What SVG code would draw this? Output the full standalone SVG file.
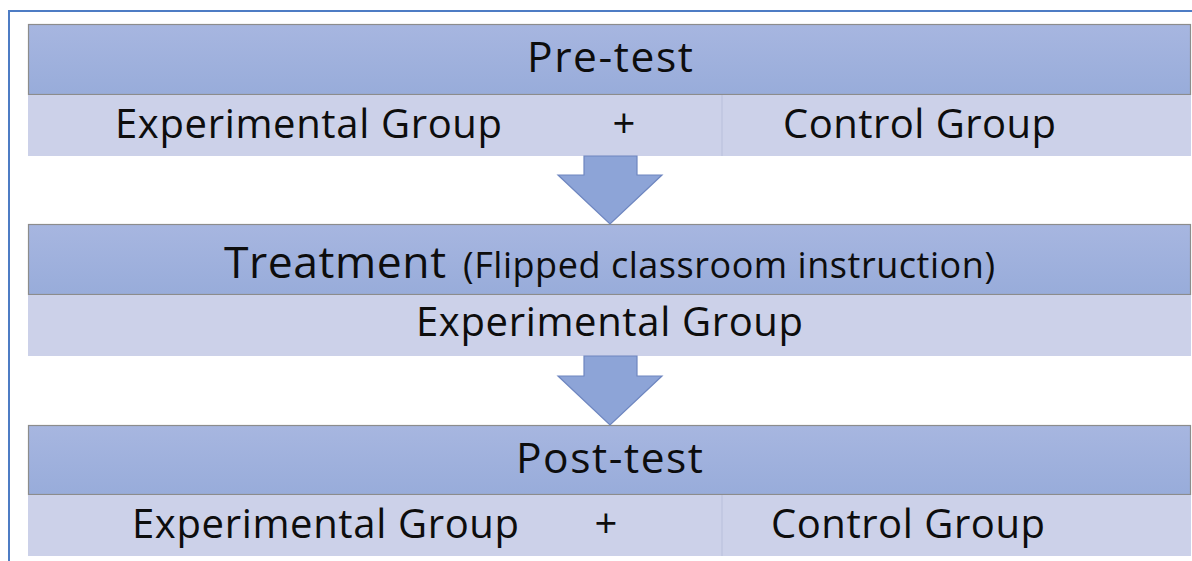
<svg xmlns="http://www.w3.org/2000/svg" width="1192" height="561" viewBox="0 0 1192 561">
<defs>
<linearGradient id="hg" x1="0" y1="0" x2="0" y2="1">
<stop offset="0" stop-color="#A7B6E0"/>
<stop offset="1" stop-color="#98ACDA"/>
</linearGradient>
<style>
.hdr{fill:url(#hg);stroke:#8C8C8C;stroke-width:1.2}
.sub{fill:#CCD1E9}
.div{stroke:#C2C8E2;stroke-width:2}
.t{font-family:"Open Sans","Noto Sans",sans-serif;fill:#0D0D0D}
.big{font-size:42.5px}
.trt{font-size:44.5px}
.mid{font-size:40px}
.sm{font-size:36px}
.arr{fill:#8DA4D7;stroke:#6E86C0;stroke-width:1.2}
.frame{fill:none;stroke:#4E7CC4;stroke-width:2}
</style>
</defs>
<rect width="1192" height="561" fill="#fff"/>
<path class="frame" d="M9 561 V11 H1192"/>
<g id="pretest">
<rect class="hdr" x="28.5" y="24.5" width="1162" height="70"/>
<rect class="sub" x="28" y="95" width="1163" height="61"/>
<line class="div" x1="722" y1="95" x2="722" y2="156"/>
<text class="t big" x="527" y="72" textLength="166">Pre-test</text>
<text class="t mid" x="115" y="138" textLength="387">Experimental Group</text>
<text class="t mid" x="624" y="138" text-anchor="middle">+</text>
<text class="t mid" x="783" y="138" textLength="273">Control Group</text>
</g>
<g id="treatment">
<rect class="hdr" x="28.5" y="224.5" width="1162" height="70"/>
<rect class="sub" x="28" y="295" width="1163" height="61"/>
<text class="t trt" x="224" y="278" textLength="222">Treatment</text>
<text class="t sm" x="463" y="278" textLength="532">(Flipped classroom instruction)</text>
<text class="t mid" x="416" y="336" textLength="387">Experimental Group</text>
</g>
<g id="posttest">
<rect class="hdr" x="28.5" y="425.5" width="1162" height="69"/>
<rect class="sub" x="28" y="495" width="1163" height="61"/>
<line class="div" x1="722" y1="495" x2="722" y2="556"/>
<text class="t big" x="516" y="473" textLength="187">Post-test</text>
<text class="t mid" x="132" y="538" textLength="387">Experimental Group</text>
<text class="t mid" x="606" y="538" text-anchor="middle">+</text>
<text class="t mid" x="771" y="538" textLength="274">Control Group</text>
</g>
<g id="connectors">
<path class="arr" d="M584 156 V175 H558 L610 224 L662 175 H637 V156 Z"/>
<path class="arr" d="M584 356 V376 H558 L610 425 L662 376 H637 V356 Z"/>
</g>
</svg>
